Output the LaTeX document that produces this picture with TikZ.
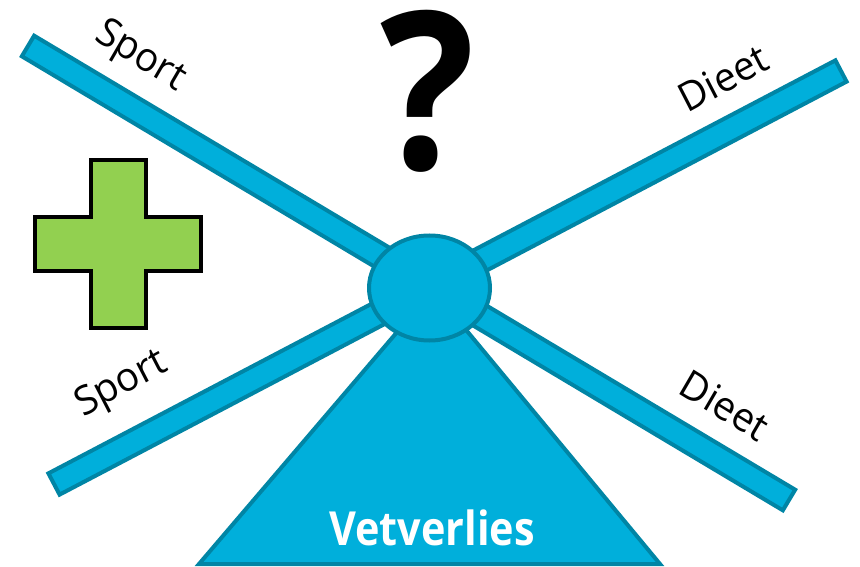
\documentclass[tikz,border=0pt]{standalone}
\usepackage{fontspec}
\setmainfont{Open Sans}
\usetikzlibrary{calc,shapes.geometric}
\definecolor{barfill}{RGB}{0,175,219}
\definecolor{barline}{RGB}{0,133,165}
\definecolor{plusgreen}{RGB}{146,208,80}
\tikzset{
  barshape/.style={fill=barfill,draw=barline,line width=4pt,line join=miter},
  lbl/.style={font=\fontsize{40}{42}\selectfont,text=black,inner sep=0pt,xscale=0.97},
}
\begin{document}
\begin{tikzpicture}[x=1pt,y=-1pt]
\useasboundingbox (0,0) rectangle (860,567);
% end points of the two crossing bars
\coordinate (tl) at (28,46);
\coordinate (br) at (789,500);
\coordinate (tr) at (841,71);
\coordinate (bl) at (54,484);
% triangle
\coordinate (apex) at (433,290);
\coordinate (bleft) at (199,564);
\coordinate (bright) at (660,564);
\draw[barshape] (apex) -- (bright) -- (bleft) -- cycle;
% bar 1
\draw[barshape] ($(tl)!12pt!90:(br)$) -- ($(br)!12pt!-90:(tl)$) -- ($(br)!12pt!90:(tl)$) -- ($(tl)!12pt!-90:(br)$) -- cycle;
% bar 2
\draw[barshape] ($(bl)!12pt!90:(tr)$) -- ($(tr)!12pt!-90:(bl)$) -- ($(tr)!12pt!90:(bl)$) -- ($(bl)!12pt!-90:(tr)$) -- cycle;
% pivot circle
\node[barshape,ellipse,inner sep=0pt,minimum width=121pt,minimum height=105pt] (pivot) at (429.5,288) {};
% plus sign
\draw[fill=plusgreen,draw=black,line width=4pt]
  (91,160) -- (146,160) -- (146,217) -- (201,217) -- (201,271) -- (146,271) -- (146,328)
  -- (91,328) -- (91,271) -- (35,271) -- (35,217) -- (91,217) -- cycle;
% question mark
\node[font=\fontsize{220}{220}\selectfont\bfseries,inner sep=0pt,xscale=0.9] (qm) at (428,91) {?};
% labels
\node[lbl,rotate=-31] (sport1) at (140,57) {Sport};
\node[lbl,rotate=28] (dieet1) at (723,78) {Dieet};
\node[lbl,rotate=28] (sport2) at (122,385) {Sport};
\node[lbl,rotate=-31] (dieet2) at (725,405) {Dieet};
\node[font=\fontsize{47}{50}\selectfont\bfseries,text=white,inner sep=0pt,xscale=0.88] (vet) at (432,528) {Vetverlies};
\end{tikzpicture}
\end{document}
